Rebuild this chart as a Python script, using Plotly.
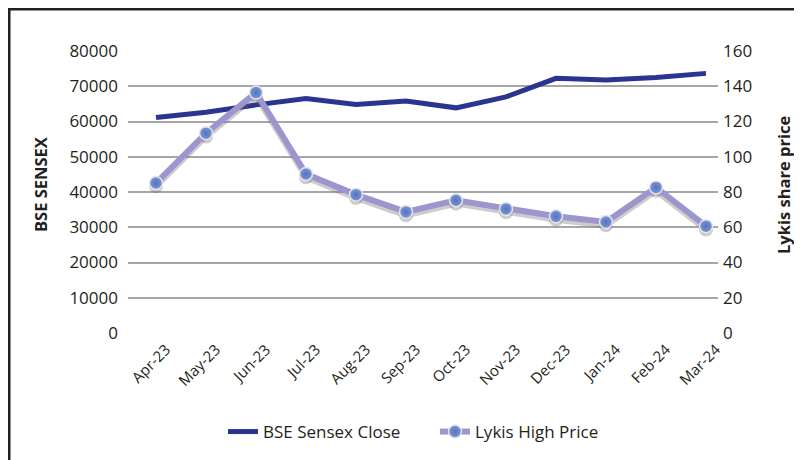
import plotly.graph_objects as go

months = ["Apr-23", "May-23", "Jun-23", "Jul-23", "Aug-23", "Sep-23",
          "Oct-23", "Nov-23", "Dec-23", "Jan-24", "Feb-24", "Mar-24"]
sensex_close = [61112, 62622, 64719, 66528, 64831, 65828,
                63875, 66988, 72240, 71752, 72500, 73651]
lykis_high = [85.1, 113.4, 136.4, 90.2, 78.5, 68.7,
              75.3, 70.4, 66.2, 63.0, 82.6, 60.6]

left_ticks = [0, 10000, 20000, 30000, 40000, 50000, 60000, 70000, 80000]
left_labels = [str(v) for v in left_ticks]
right_ticks = [0, 20, 40, 60, 80, 100, 120, 140, 160]

# page offset (browser body margin)
O = 8
W, H = 802, 460
L, R, T, B = 120, 92, 43, 135
PW, PH = W - L - R, H - T - B


def px(x):
    """page x pixel -> paper fraction"""
    return (x - O - L) / PW


def py(y):
    """page y pixel -> paper fraction"""
    return (H - B - (y - O)) / PH


FONT = "Open Sans"
TXT = "#231F20"
GRID = "#A6A6A6"

fig = go.Figure()

fig.add_trace(go.Scatter(
    x=months, y=sensex_close, name="BSE Sensex Close", mode="lines",
    line=dict(color="#2B3491", width=5), xaxis="x", yaxis="y"))

# soft shadow under the Lykis line (same data on a slightly shifted hidden axis)
fig.add_trace(go.Scatter(
    x=months, y=lykis_high, mode="lines+markers", showlegend=False, hoverinfo="skip",
    line=dict(color="rgba(110,110,110,0.35)", width=6),
    marker=dict(size=14, color="rgba(110,110,110,0.35)"),
    xaxis="x", yaxis="y2"))

fig.add_trace(go.Scatter(
    x=months, y=lykis_high, name="Lykis High Price", mode="lines+markers",
    line=dict(color="#9D96CE", width=6),
    marker=dict(size=13, color="#7B98DA",
                gradient=dict(type="radial", color="#5573BE"),
                line=dict(color="#E6E6E6", width=1.5)),
    xaxis="x", yaxis="y3"))

fig.update_layout(
    width=W, height=H,
    margin=dict(l=L, r=R, t=T, b=B),
    paper_bgcolor="white", plot_bgcolor="white",
    font=dict(family=FONT, color=TXT, size=17),
    xaxis=dict(type="category", range=[-0.56, 11.24], showgrid=False,
               showline=False, zeroline=False, ticks="",
               tickangle=-45, tickfont=dict(size=15, color=TXT),
               ticklabelstandoff=4, ticklabelshift=10),
    yaxis=dict(range=[0, 80000], tickvals=left_ticks, ticktext=left_labels,
               showgrid=True, gridcolor=GRID, gridwidth=1.5, zeroline=False,
               showline=False, tickfont=dict(size=17, color=TXT),
               ticklabelstandoff=9),
    yaxis2=dict(overlaying="y", range=[1.9, 161.9], visible=False),
    yaxis3=dict(overlaying="y", side="right", range=[0, 160], tickvals=right_ticks,
                showgrid=False, zeroline=False, showline=False,
                tickfont=dict(size=17, color=TXT), ticklabelstandoff=4),
    legend=dict(orientation="h", x=px(223), xanchor="left",
                y=py(432), yanchor="middle", font=dict(size=17, color=TXT),
                bgcolor="rgba(0,0,0,0)", entrywidth=167, entrywidthmode="pixels"),
    showlegend=True,
)

fig.add_annotation(text="<b>BSE SENSEX</b>", textangle=-90, xref="paper", yref="paper",
                   x=px(40), y=py(185), xanchor="center", yanchor="middle",
                   showarrow=False, font=dict(size=16.5, color=TXT, family=FONT))
fig.add_annotation(text="<b>Lykis share price</b>", textangle=-90, xref="paper", yref="paper",
                   x=px(783), y=py(185), xanchor="center", yanchor="middle",
                   showarrow=False, font=dict(size=16.5, color=TXT, family=FONT))

# outer frame (cropped at right and bottom in the original picture)
fig.add_shape(type="rect", xref="paper", yref="paper",
              x0=px(9.25), y0=py(480), x1=px(830), y1=py(9.25),
              line=dict(color=TXT, width=2.5), layer="above")

fig.write_html("out.html")
